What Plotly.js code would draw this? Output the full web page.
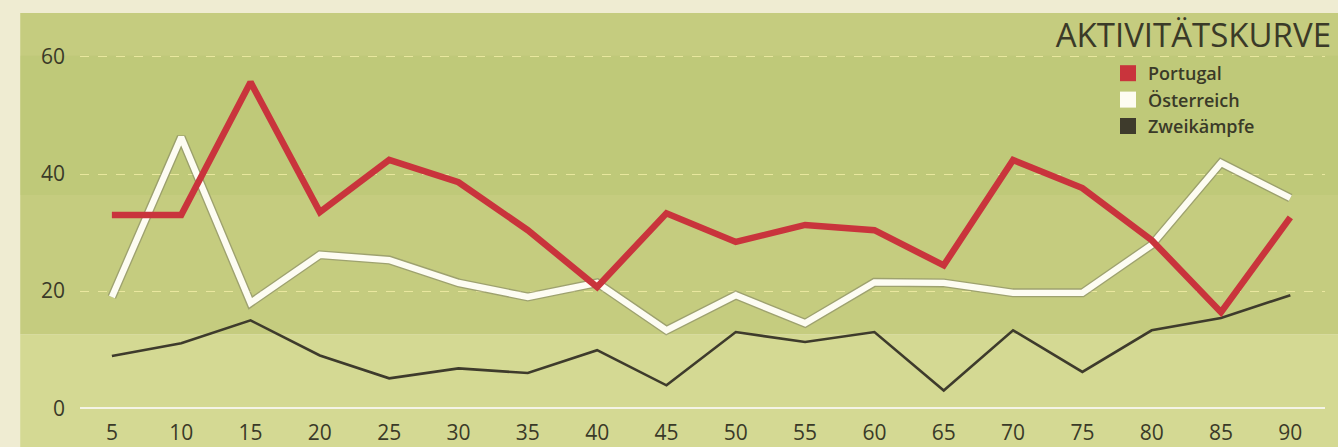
<!DOCTYPE html>
<html>
<head>
<meta charset="utf-8">
<script src="https://cdn.plot.ly/plotly-3.0.1.min.js"></script>
<style>
html,body{margin:0;padding:0;background:#efecd2;}
#chart{width:1338px;height:447px;}
</style>
</head>
<body>
<div id="chart"></div>
<script>
const minutes = [5,10,15,20,25,30,35,40,45,50,55,60,65,70,75,80,85,90];
const portugal = [33,33,55.7,33.5,42.4,38.6,30.4,20.7,33.3,28.4,31.3,30.4,24.4,42.4,37.6,28.7,16.4,32.6];
const oesterreich = [19,46.3,18,26.2,25.3,21.4,19,21.4,13.3,19.3,14.5,21.5,21.4,19.7,19.7,27.9,41.9,35.9];
const zweikaempfe = [8.9,11.1,15,9,5.1,6.8,6,9.9,3.9,13,11.3,13,3,13.3,6.2,13.3,15.4,19.3];
const seriesNames = ["Portugal","Österreich","Zweikämpfe"];
const yTicks = [0,20,40,60];

const red = "#c9343c", white = "#fdfcf2", dark = "#3e3b2c", txt = "#3a3a28";

const traces = [
  {x: minutes, y: zweikaempfe, mode: "lines", line: {color: dark, width: 2.6}, showlegend: false, hoverinfo: "skip"},
  {x: minutes, y: oesterreich, mode: "lines", line: {color: "rgba(120,120,95,0.5)", width: 9}, showlegend: false, hoverinfo: "skip"},
  {x: minutes, y: oesterreich, mode: "lines", line: {color: white, width: 6.3}, showlegend: false},
  {x: minutes, y: portugal, mode: "lines", line: {color: red, width: 6.5}, showlegend: false},
  {x: [null], y: [null], mode: "markers", name: seriesNames[0], marker: {symbol: "square", size: 17, color: red}},
  {x: [null], y: [null], mode: "markers", name: seriesNames[1], marker: {symbol: "square", size: 17, color: white}},
  {x: [null], y: [null], mode: "markers", name: seriesNames[2], marker: {symbol: "square", size: 17, color: dark}}
];

const layout = {
  width: 1338, height: 447,
  margin: {l: 80, r: 13, t: 16, b: 33, autoexpand: false},
  paper_bgcolor: "#efecd2",
  plot_bgcolor: "rgba(0,0,0,0)",
  font: {family: "Open Sans, Noto Sans, sans-serif", color: txt},
  showlegend: true,
  legend: {
    x: 1108/1338, y: 1 - 55/447, xref: "container", yref: "container",
    xanchor: "left", yanchor: "top",
    bgcolor: "rgba(0,0,0,0)", borderwidth: 0,
    font: {size: 18, color: txt, family: "Open Sans, sans-serif", weight: 600},
    itemwidth: 30, tracegroupgap: 0
  },
  title: {
    text: "AKTIVITÄTSKURVE",
    x: 1331/1338, xanchor: "right", xref: "container",
    y: 1 - 35/447, yanchor: "middle", yref: "container",
    font: {size: 33, color: txt, family: "Open Sans, sans-serif", weight: 500}
  },
  xaxis: {
    range: [2.7, 92.5],
    tickvals: minutes, ticktext: minutes.map(String),
    showgrid: false, zeroline: false, showline: false,
    ticks: "", ticklabelstandoff: 4, tickfont: {size: 21, color: txt, weight: 500},
    fixedrange: true
  },
  yaxis: {
    range: [-1, 67],
    tickvals: yTicks, ticktext: yTicks.map(String),
    showgrid: true, gridcolor: "rgba(245,240,170,0.75)", griddash: "dash", gridwidth: 1,
    zeroline: true, zerolinecolor: "#f4f4e6", zerolinewidth: 2.5,
    showline: false, ticks: "", ticklabelstandoff: 14,
    tickfont: {size: 21, color: txt, weight: 500},
    fixedrange: true
  },
  shapes: [
    {type: "rect", xref: "paper", yref: "paper", x0: -0.048, x1: 1.0105, y0: 0.2, y1: 1.0075, fillcolor: "#c5cc7f", line: {width: 0}, layer: "below"},
    {type: "rect", xref: "paper", yref: "paper", x0: -0.048, x1: 1.0105, y0: -0.083, y1: 0.2, fillcolor: "#d4d993", line: {width: 0}, layer: "below"},
    {type: "rect", xref: "paper", yref: "paper", x0: -0.048, x1: 1.0105, y0: 0.55, y1: 0.9, fillcolor: "rgba(175,190,100,0.22)", line: {width: 0}, layer: "below"}
  ]
};

Plotly.newPlot("chart", traces, layout, {displayModeBar: false, staticPlot: true});
</script>
</body>
</html>
